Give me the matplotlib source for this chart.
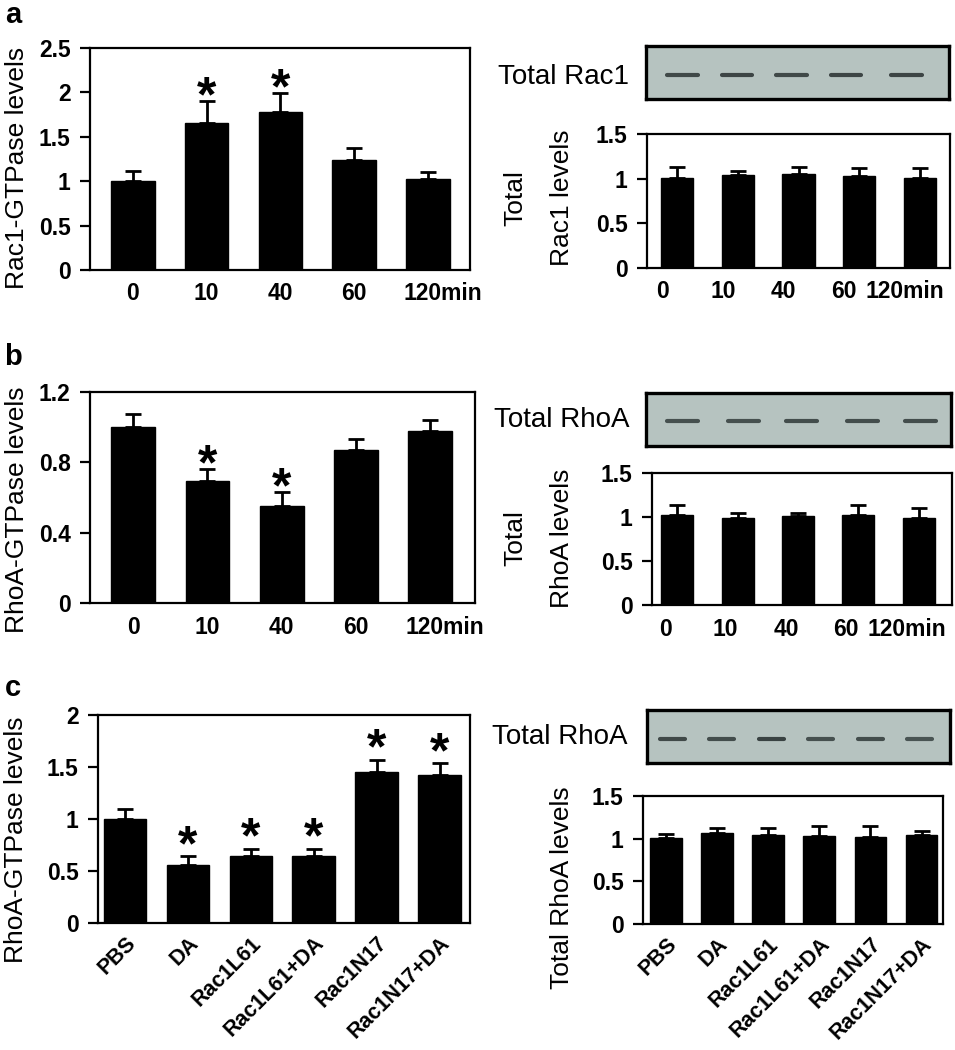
import numpy as np
import matplotlib.pyplot as plt

plt.rcParams['font.family'] = ['Liberation Sans', 'DejaVu Sans']

# ---- data ----
time_labels = ["0", "10", "40", "60", "120min"]
treat_labels = ["PBS", "DA", "Rac1L61", "Rac1L61+DA", "Rac1N17", "Rac1N17+DA"]

rac1_gtp = [1.00, 1.66, 1.78, 1.24, 1.02]
rac1_gtp_err = [0.11, 0.24, 0.21, 0.13, 0.08]
rac1_gtp_sig = [False, True, True, False, False]

rac1_total = [1.01, 1.04, 1.05, 1.03, 1.01]
rac1_total_err = [0.12, 0.05, 0.08, 0.09, 0.11]

rhoa_gtp_time = [1.00, 0.695, 0.55, 0.87, 0.98]
rhoa_gtp_time_err = [0.075, 0.065, 0.08, 0.065, 0.06]
rhoa_gtp_time_sig = [False, True, True, False, False]

rhoa_total_time = [1.02, 0.99, 1.01, 1.02, 0.99]
rhoa_total_time_err = [0.12, 0.05, 0.04, 0.12, 0.11]

rhoa_gtp_treat = [1.00, 0.56, 0.646, 0.646, 1.455, 1.42]
rhoa_gtp_treat_err = [0.10, 0.08, 0.065, 0.065, 0.115, 0.115]
rhoa_gtp_treat_sig = [False, True, True, True, True, True]

rhoa_total_treat = [1.01, 1.07, 1.04, 1.03, 1.02, 1.04]
rhoa_total_treat_err = [0.05, 0.06, 0.08, 0.12, 0.13, 0.05]

# blot band intensities (relative darkness per lane)
blot_a = [0.8, 0.85, 0.8, 0.85, 0.85]
blot_b = [0.7, 0.7, 0.75, 0.75, 0.75]
blot_c = [0.8, 0.75, 0.9, 0.7, 0.75, 0.65]

W, H = 955, 1050
fig = plt.figure(figsize=(W / 100, H / 100), dpi=100)

TICK_FS = 16.5
LABEL_FS = 19


def axes_px(left, top, right, bottom):
    return fig.add_axes([left / W, 1 - bottom / H, (right - left) / W, (bottom - top) / H])


def bar_panel(ax, vals, errs, ylim, yticks, yticklabels, width, xlim):
    x = np.arange(len(vals))
    ax.bar(x, vals, width=width, color='black', edgecolor='black', zorder=2)
    ax.errorbar(x, vals, yerr=[np.zeros(len(vals)), errs], fmt='none',
                ecolor='black', elinewidth=2, capsize=6, capthick=2, zorder=3)
    ax.set_ylim(*ylim)
    ax.set_xlim(*xlim)
    ax.set_yticks(yticks)
    ax.set_yticklabels(yticklabels, fontsize=TICK_FS, fontweight='bold')
    for s in ax.spines.values():
        s.set_linewidth(1.6)
    ax.tick_params(axis='y', direction='out', length=7, width=1.6, pad=7)
    ax.tick_params(axis='x', length=0, pad=9)
    return x


def stars(ax, x, vals, errs, sig, dy):
    for xi, v, e, s in zip(x, vals, errs, sig):
        if s:
            ax.annotate('*', (xi, v + e), xytext=(0, dy), textcoords='offset points',
                        ha='center', va='baseline', fontsize=36, fontweight='bold',
                        annotation_clip=False)


def blot(ax, lanes, darkness, band_w, yb):
    ax.set_facecolor('#b6c3c0')
    ax.set_xlim(-0.5, len(darkness) - 0.5)
    ax.set_ylim(0, 1)
    for xi, d in zip(lanes, darkness):
        c = (0.25 * (1 - d) + 0.2, 0.28 * (1 - d) + 0.23, 0.27 * (1 - d) + 0.23)
        ax.plot([xi - band_w / 2, xi + band_w / 2], [yb, yb], color=c, lw=3,
                solid_capstyle='round')
    ax.set_xticks([])
    ax.set_yticks([])
    for s in ax.spines.values():
        s.set_linewidth(2.4)


def px_frac(ax_left, ax_width, px):
    return (px - ax_left) / ax_width


# ---------- row a ----------
ax = axes_px(90, 48, 470, 270)
x = bar_panel(ax, rac1_gtp, rac1_gtp_err, (0, 2.5), [0, 0.5, 1, 1.5, 2, 2.5],
              ["0", "0.5", "1", "1.5", "2", "2.5"], 0.59, (-0.58, 4.57))
ax.set_xticks(x + np.array([0, 0, 0, 0, 0.2]))
ax.set_xticklabels(time_labels, fontsize=TICK_FS, fontweight='bold')
stars(ax, x, rac1_gtp, rac1_gtp_err, rac1_gtp_sig, -7.5)
ax.set_ylabel("Rac1-GTPase levels", fontsize=LABEL_FS)
ax.yaxis.set_label_coords(px_frac(90, 380, 29), 0.46)

ax = axes_px(646, 46, 949, 99)
blot(ax, [0.1, 1.0, 1.9, 2.8, 3.8], blot_a, 0.5, 0.45)
fig.text(563 / W, 1 - 77 / H, "Total Rac1", fontsize=20, ha='center', va='center')

ax = axes_px(647, 134, 950, 268)
x = bar_panel(ax, rac1_total, rac1_total_err, (0, 1.5), [0, 0.5, 1, 1.5],
              ["0", "0.5", "1", "1.5"], 0.53, (-0.5, 4.5))
ax.set_xticks(x - 0.25)
ax.set_xticklabels(time_labels, fontsize=TICK_FS, fontweight='bold')
ax.set_ylabel("Rac1 levels", fontsize=LABEL_FS)
ax.yaxis.set_label_coords(px_frac(647, 303, 574), (268 - 198) / 134)
ax.text(px_frac(647, 303, 527), (268 - 198) / 134, "Total", transform=ax.transAxes,
        rotation=90, ha='right', va='center', fontsize=LABEL_FS)

# ---------- row b ----------
ax = axes_px(90, 392, 475, 603)
x = bar_panel(ax, rhoa_gtp_time, rhoa_gtp_time_err, (0, 1.2), [0, 0.4, 0.8, 1.2],
              ["0", "0.4", "0.8", "1.2"], 0.59, (-0.58, 4.6))
ax.set_xticks(x + np.array([0, 0, 0, 0, 0.2]))
ax.set_xticklabels(time_labels, fontsize=TICK_FS, fontweight='bold')
stars(ax, x, rhoa_gtp_time, rhoa_gtp_time_err, rhoa_gtp_time_sig, -7.5)
ax.set_ylabel("RhoA-GTPase levels", fontsize=LABEL_FS)
ax.yaxis.set_label_coords(px_frac(90, 385, 29), 0.44)

ax = axes_px(646, 393, 951, 446)
blot(ax, [0.1, 1.1, 2.05, 3.05, 4.0], blot_b, 0.5, 0.48)
fig.text(562 / W, 1 - 420 / H, "Total RhoA", fontsize=20, ha='center', va='center')

ax = axes_px(652, 473, 952, 605)
x = bar_panel(ax, rhoa_total_time, rhoa_total_time_err, (0, 1.5), [0, 0.5, 1, 1.5],
              ["0", "0.5", "1", "1.5"], 0.53, (-0.42, 4.55))
ax.set_xticks(x - 0.2)
ax.set_xticklabels(time_labels, fontsize=TICK_FS, fontweight='bold')
ax.set_ylabel("RhoA levels", fontsize=LABEL_FS)
ax.yaxis.set_label_coords(px_frac(652, 300, 574), (605 - 538) / 132)
ax.text(px_frac(652, 300, 527), (605 - 538) / 132, "Total", transform=ax.transAxes,
        rotation=90, ha='right', va='center', fontsize=LABEL_FS)

# ---------- row c ----------
ax = axes_px(98, 715, 470, 923)
x = bar_panel(ax, rhoa_gtp_treat, rhoa_gtp_treat_err, (0, 2), [0, 0.5, 1, 1.5, 2],
              ["0", "0.5", "1", "1.5", "2"], 0.68, (-0.43, 5.48))
ax.set_xticks(x)
ax.set_xticklabels(treat_labels, fontsize=15.5, fontweight='bold', rotation=45,
                   ha='right', rotation_mode='anchor')
ax.tick_params(axis='x', pad=7)
stars(ax, x, rhoa_gtp_treat, rhoa_gtp_treat_err, rhoa_gtp_treat_sig, -2.5)
ax.set_ylabel("RhoA-GTPase levels", fontsize=LABEL_FS)
ax.yaxis.set_label_coords(px_frac(98, 372, 28), 0.40)

ax = axes_px(647, 710, 950, 763)
blot(ax, np.arange(6) * 0.98, blot_c, 0.5, 0.45)
fig.text(560 / W, 1 - 737 / H, "Total RhoA", fontsize=20, ha='center', va='center')

ax = axes_px(643, 796, 943, 924)
x = bar_panel(ax, rhoa_total_treat, rhoa_total_treat_err, (0, 1.5), [0, 0.5, 1, 1.5],
              ["0", "0.5", "1", "1.5"], 0.62, (-0.45, 5.42))
ax.set_xticks(x)
ax.set_xticklabels(treat_labels, fontsize=15.5, fontweight='bold', rotation=45,
                   ha='right', rotation_mode='anchor')
ax.tick_params(axis='x', pad=7)
ax.set_ylabel("Total RhoA levels", fontsize=LABEL_FS)
ax.yaxis.set_label_coords(px_frac(643, 300, 574), (924 - 888) / 128)

# panel letters
for lbl, yy in [("a", 15), ("b", 357), ("c", 688)]:
    fig.text(13 / W, 1 - yy / H, lbl, fontsize=21, fontweight='bold', ha='center', va='center')

fig.savefig("out.png", dpi=100)
